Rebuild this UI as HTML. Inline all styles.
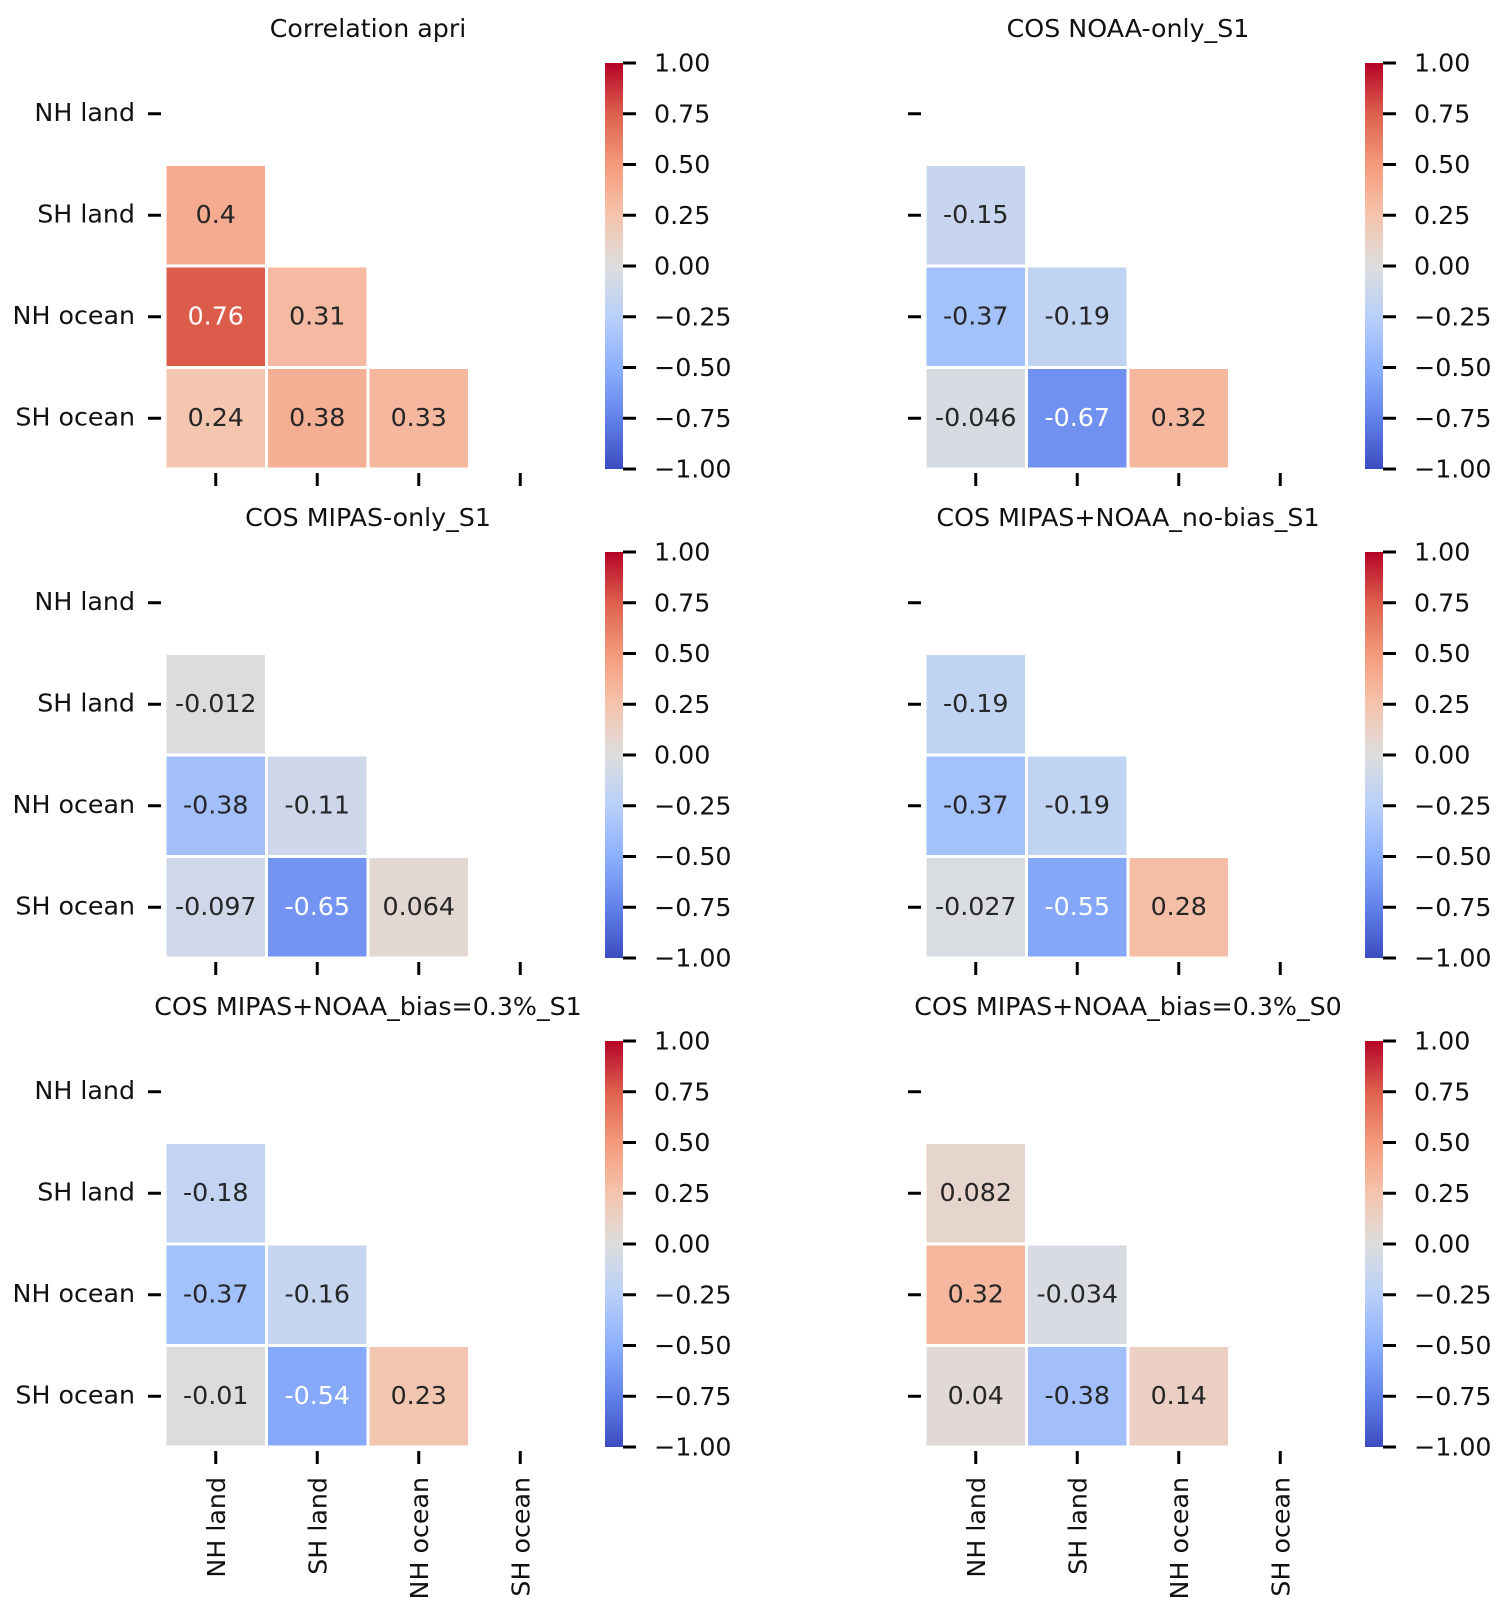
<!DOCTYPE html>
<html><head><meta charset="utf-8">
<style>
html,body{margin:0;padding:0;background:#fff;}
svg{display:block;font-family:"DejaVu Sans","Liberation Sans",sans-serif;}
</style></head>
<body>
<svg id="fig" width="1508" height="1615" viewBox="0 0 1508 1615" xmlns="http://www.w3.org/2000/svg"></svg>
<script>
const labels = ["NH land","SH land","NH ocean","SH ocean"];
const titles = ["Correlation apri","COS NOAA-only_S1","COS MIPAS-only_S1","COS MIPAS+NOAA_no-bias_S1","COS MIPAS+NOAA_bias=0.3%_S1","COS MIPAS+NOAA_bias=0.3%_S0"];
const p1 = [[0.4],[0.76,0.31],[0.24,0.38,0.33]];
const p2 = [[-0.15],[-0.37,-0.19],[-0.046,-0.67,0.32]];
const p3 = [[-0.012],[-0.38,-0.11],[-0.097,-0.65,0.064]];
const p4 = [[-0.19],[-0.37,-0.19],[-0.027,-0.55,0.28]];
const p5 = [[-0.18],[-0.37,-0.16],[-0.01,-0.54,0.23]];
const p6 = [[0.082],[0.32,-0.034],[0.04,-0.38,0.14]];
const panels = [p1,p2,p3,p4,p5,p6];
const cbTicks = [1.00,0.75,0.50,0.25,0.00,-0.25,-0.50,-0.75,-1.00];

const NS="http://www.w3.org/2000/svg";
const svg=document.getElementById('fig');
const stops=[[59,76,192],[98,130,234],[141,176,254],[184,208,249],[221,221,221],[245,196,173],[244,154,123],[222,96,77],[180,4,38]];
function cmap(v){
  let t=(v+1)/2; t=Math.max(0,Math.min(1,t));
  const s=t*8, i=Math.min(7,Math.floor(s)), f=s-i;
  const a=stops[i], b=stops[i+1];
  return 'rgb('+a.map((c,k)=>Math.round(c+(b[k]-c)*f)).join(',')+')';
}
function el(tag,attrs,parent){const e=document.createElementNS(NS,tag);for(const k in attrs)e.setAttribute(k,attrs[k]);(parent||svg).appendChild(e);return e;}
function fmt(v){return (v<0?'\u2212':'')+Math.abs(v).toFixed(2);}

const defs=el('defs',{});
const grad=el('linearGradient',{id:'cw',x1:0,y1:1,x2:0,y2:0},defs);
for(let i=0;i<=16;i++){el('stop',{offset:(i/16),'stop-color':cmap(-1+i/8)},grad);}

const FS=25.3, CELL=101.5, TOP0=63, DY=489, LEFT=[165,925], CBX=[605,1365];
panels.forEach((data,p)=>{
  const col=p%2, row=Math.floor(p/2);
  const x0=LEFT[col], y0=TOP0+row*DY;
  const xs=i=>x0+i*CELL, ys=j=>y0+j*CELL;
  const g=el('g',{});
  
  
  const t=el('text',{x:x0+2*CELL,y:y0-26,'text-anchor':'middle','font-size':FS,fill:'#111'},g);
  t.textContent=titles[p];
  
  
  data.forEach((r,ri)=>{
    r.forEach((v,ci)=>{
      const rr=ri+1;
      const rc=el('rect',{x:xs(ci)+1.5,y:ys(rr)+1.5,width:CELL-3,height:CELL-3,fill:cmap(v)},g);
      
      
      const tx=el('text',{x:xs(ci)+CELL/2,y:ys(rr)+CELL/2+7.5,'text-anchor':'middle','font-size':FS,fill:Math.abs(v)>0.5?'#fff':'#262626'},g);
      tx.textContent=String(v);
      
      
    });
  });
  labels.forEach((lb,i)=>{
    const yc=ys(i)+CELL/2;
    el('line',{x1:x0-17,x2:x0-4,y1:yc,y2:yc,stroke:'#000','stroke-width':3},g);
    if(col===0){
      const yt=el('text',{x:x0-30,y:yc+7,'text-anchor':'end','font-size':FS,fill:'#111'},g);
      yt.textContent=lb;
      
      
    }
    const xc=xs(i)+CELL/2, yb=y0+4*CELL;
    el('line',{x1:xc,x2:xc,y1:yb+4,y2:yb+17,stroke:'#000','stroke-width':3},g);
    if(row===2){
      const xt=el('text',{x:0,y:0,'text-anchor':'end','font-size':FS,fill:'#111',transform:'translate('+(xc+9)+','+(yb+30)+') rotate(-90)'},g);
      xt.textContent=lb;
      
      
    }
  });
  const cx=CBX[col], ch=406;
  const cb=el('rect',{x:cx,y:y0,width:18,height:ch,fill:'url(#cw)'},g);
  
  
  const cy=v=>y0+(1-v)/2*ch;
  cbTicks.forEach(v=>{
    el('line',{x1:cx+18,x2:cx+31,y1:cy(v),y2:cy(v),stroke:'#000','stroke-width':3},g);
    const ct=el('text',{x:cx+49,y:cy(v)+8.5,'font-size':FS,fill:'#111'},g);
    ct.textContent=fmt(v);
    
    
  });
});
</script>
</body></html>
